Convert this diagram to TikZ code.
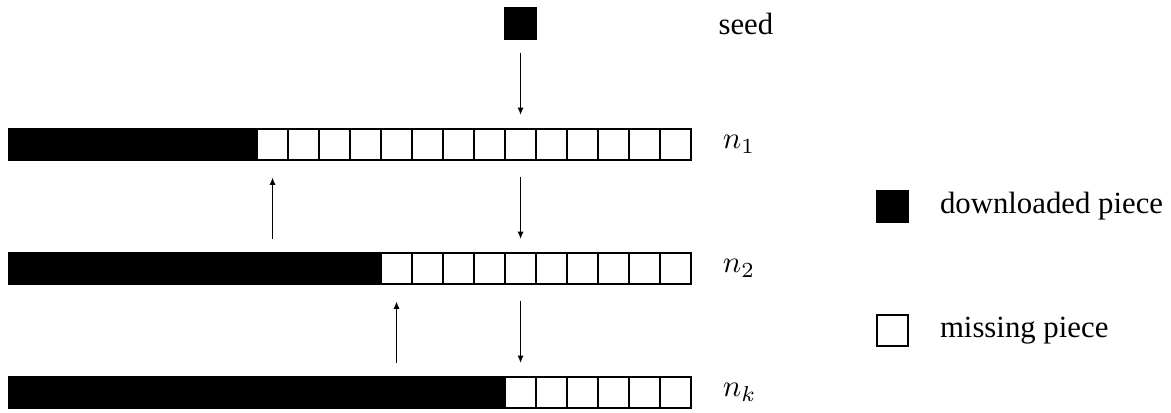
\documentclass[tikz,border=0pt]{standalone}
\usepackage{fontspec}
\setmainfont{Liberation Serif}
\usetikzlibrary{positioning}
\usetikzlibrary{arrows.meta}

\begin{document}
\begin{tikzpicture}[x=0.354cm, y=0.354cm,
    piece/.style={draw, rectangle, minimum size=0.354cm, inner sep=0pt, outer sep=0pt},
    flow/.style={-{Latex[length=2.4pt,width=2pt]}}]
            \useasboundingbox (-0.29,-0.16) rectangle (37.48,13.16);

            \node[piece, fill=black] (seed) at (16.5,12.4) {};
            \node[right=1.96cm of seed] (seedlabel) {seed};

            \foreach \row/\y/\done in {1/8/8, 2/4/12, k/0/16}{
                \foreach \i in {1,...,22}{
                    \ifnum\i>\done \def\shade{white}\else\def\shade{black}\fi
                    \node[piece, fill=\shade] (n\row-\i) at (\i-0.5,\y+0.5) {};
                }
                \node[right=0.24cm of n\row-22] (label\row) {$n_\row$};
            }

            \draw[flow, shorten <=0.16cm, shorten >=0.16cm] (seed) -- (n1-17);
            \draw[flow, shorten <=0.19cm, shorten >=0.16cm] (n1-17) -- (n2-17);
            \draw[flow, shorten <=0.19cm, shorten >=0.16cm] (n2-17) -- (nk-17);
            \draw[flow, shorten <=0.16cm, shorten >=0.2cm] (n2-9) -- (n1-9);
            \draw[flow, shorten <=0.16cm, shorten >=0.2cm] (nk-13) -- (n2-13);

            \node[piece, fill=black] (done) at (28.5,6.5) {};
            \node[right=0.24cm of done] (donelabel) {downloaded piece};
            \node[piece, fill=white] (missing) at (28.5,2.5) {};
            \node[right=0.24cm of missing] (missinglabel) {missing piece};
        \end{tikzpicture}
\end{document}
